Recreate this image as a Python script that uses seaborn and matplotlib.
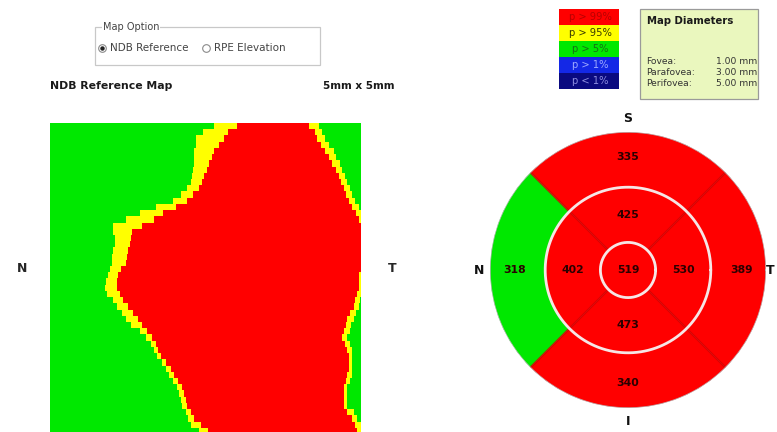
import numpy as np
import matplotlib
matplotlib.use("Agg")
import matplotlib.pyplot as plt
from matplotlib.colors import ListedColormap
from matplotlib.patches import Rectangle
from matplotlib.lines import Line2D
import seaborn as sns

sns.set_style("white")
plt.rcParams["font.family"] = ["DejaVu Sans"]

# ---------------------------------------------------------------
# Significance classes (legend)
classes = ["p > 99%", "p > 95%", "p > 5%", "p > 1%", "p < 1%"]
class_colors = ["#FF0000", "#FFFF00", "#00E800", "#1428E6", "#0A0A80"]
class_text = ["#B80000", "#3A3A00", "#157015", "#9CA8FF", "#8C8CE0"]

# Map diameters panel
diam_names = ["Fovea:", "Parafovea:", "Perifovea:"]
diam_values = ["1.00 mm", "3.00 mm", "5.00 mm"]

# ETDRS grid: thickness (um) and class per sector
center_value = 519
center_class = "p > 99%"
sector_names = ["S", "N", "T", "I"]
sector_angles_deg = [90, 180, 0, 270]
inner_values = [425, 402, 530, 473]
inner_classes = ["p > 99%", "p > 99%", "p > 99%", "p > 99%"]
outer_values = [335, 318, 389, 340]
outer_classes = ["p > 99%", "p > 5%", "p > 99%", "p > 99%"]
ring_radii_mm = [0.5, 1.5, 2.5]

# NDB reference map (5 mm x 5 mm): per 0.1 mm row, edges (mm) of the
# p > 95% region (yellow) and the p > 99% region (red)
row_y = np.round(np.arange(0.05, 5.0, 0.1), 2)
yellow_left = [2.65, 2.47, 2.35, 2.34, 2.33, 2.33, 2.33, 2.31, 2.29, 2.27,
               2.20, 2.10, 1.98, 1.70, 1.45, 1.22, 1.03, 1.03, 1.05, 1.04,
               1.03, 1.01, 1.00, 0.97, 0.94, 0.91, 0.88, 0.93, 1.02, 1.09,
               1.16, 1.23, 1.31, 1.44, 1.55, 1.62, 1.68, 1.73, 1.80, 1.87,
               1.93, 1.99, 2.05, 2.08, 2.11, 2.13, 2.18, 2.22, 2.27, 2.40]
yellow_right = [4.32, 4.38, 4.42, 4.48, 4.55, 4.60, 4.65, 4.70, 4.74, 4.78,
                4.81, 4.85, 4.90, 4.95, 5.00, 5.00, 5.00, 5.00, 5.00, 5.00,
                5.00, 5.00, 5.00, 5.00, 5.00, 5.00, 5.00, 5.00, 4.97, 4.95,
                4.91, 4.87, 4.84, 4.81, 4.77, 4.81, 4.85, 4.86, 4.86, 4.86,
                4.85, 4.82, 4.78, 4.77, 4.77, 4.78, 4.87, 4.93, 5.00, 5.00]
red_left = [3.00, 2.87, 2.80, 2.72, 2.65, 2.61, 2.57, 2.53, 2.49, 2.45,
            2.40, 2.30, 2.20, 2.03, 1.82, 1.68, 1.49, 1.33, 1.30, 1.29,
            1.27, 1.25, 1.22, 1.15, 1.10, 1.08, 1.08, 1.12, 1.19, 1.26,
            1.35, 1.42, 1.49, 1.57, 1.65, 1.70, 1.75, 1.78, 1.86, 1.95,
            2.01, 2.07, 2.13, 2.16, 2.19, 2.21, 2.26, 2.32, 2.42, 2.55]
red_right = [4.15, 4.25, 4.30, 4.36, 4.42, 4.48, 4.54, 4.59, 4.64, 4.68,
             4.71, 4.75, 4.79, 4.85, 4.92, 4.96, 5.00, 5.00, 5.00, 5.00,
             5.00, 5.00, 5.00, 5.00, 4.96, 4.95, 4.95, 4.93, 4.90, 4.87,
             4.82, 4.78, 4.75, 4.72, 4.69, 4.73, 4.77, 4.79, 4.79, 4.79,
             4.78, 4.75, 4.72, 4.71, 4.71, 4.72, 4.78, 4.85, 4.90, 4.93]

# ---------------------------------------------------------------
W, H = 777, 432
fig = plt.figure(figsize=(W / 100, H / 100), dpi=100)
fig.patch.set_facecolor("white")


def fx(px):
    return px / W


def fy(py):
    return 1 - py / H


# ---- NDB reference map as a categorical heatmap -----------------
n_cols = 250
xs = (np.arange(n_cols) + 0.5) * 5.0 / n_cols
grid = np.zeros((len(row_y), n_cols), dtype=int)
for i in range(len(row_y)):
    grid[i, (xs >= yellow_left[i]) & (xs <= yellow_right[i])] = 1
    grid[i, (xs >= red_left[i]) & (xs <= red_right[i])] = 2

map_cmap = ListedColormap([class_colors[2], class_colors[1], class_colors[0]])
ax_map = fig.add_axes([fx(50), fy(434), fx(311), 311 / H])
sns.heatmap(grid, cmap=map_cmap, vmin=-0.5, vmax=2.5, cbar=False,
            xticklabels=False, yticklabels=False, ax=ax_map)
ax_map.set_xlabel("")
ax_map.set_ylabel("")

fig.text(fx(50), fy(86), "NDB Reference Map", fontsize=7.8,
         fontweight="bold", ha="left", va="center", color="#1a1a1a")
fig.text(fx(395), fy(86), "5mm x 5mm", fontsize=7.6,
         fontweight="bold", ha="right", va="center", color="#1a1a1a")
fig.text(fx(22), fy(268), "N", fontsize=9, fontweight="bold",
         ha="center", va="center")
fig.text(fx(392), fy(268), "T", fontsize=9, fontweight="bold",
         ha="center", va="center")

# ---- Map option group box ----------------------------------------
fig.add_artist(Rectangle((fx(95), fy(65)), fx(225), 38 / H,
                         transform=fig.transFigure, fill=False,
                         edgecolor="#C8C8C8", linewidth=0.9))
fig.text(fx(103), fy(27), "Map Option", fontsize=7, ha="left",
         va="center", color="#444444",
         bbox=dict(facecolor="white", edgecolor="none", pad=0.6))
for px, label, selected in [(102, "NDB Reference", True),
                            (206, "RPE Elevation", False)]:
    fig.add_artist(Line2D([fx(px)], [fy(48)], marker="o", markersize=5.5,
                          markerfacecolor="white", markeredgecolor="#8A8A8A",
                          markeredgewidth=0.8, transform=fig.transFigure))
    if selected:
        fig.add_artist(Line2D([fx(px)], [fy(48)], marker="o",
                              markersize=2.2, color="#222222",
                              transform=fig.transFigure))
    fig.text(fx(px + 8), fy(48), label, fontsize=7.5, ha="left",
             va="center", color="#444444")

# ---- Significance legend -----------------------------------------
row_h = 16
for k, (lab, col, tcol) in enumerate(zip(classes, class_colors, class_text)):
    top = 9 + k * row_h
    fig.add_artist(Rectangle((fx(559), fy(top + row_h)), fx(60), row_h / H,
                             transform=fig.transFigure, facecolor=col,
                             edgecolor="none"))
    fig.text(fx(590), fy(top + row_h / 2), lab, fontsize=7.2,
             ha="center", va="center", color=tcol)

# ---- Map diameters box ---------------------------------------------
fig.add_artist(Rectangle((fx(640), fy(99)), fx(118), 90 / H,
                         transform=fig.transFigure, facecolor="#EAF7BE",
                         edgecolor="#9A9A9A", linewidth=0.9))
fig.text(fx(647), fy(21), "Map Diameters", fontsize=7.3, fontweight="bold",
         ha="left", va="center", color="#1a1a1a")
for k, (nm, val) in enumerate(zip(diam_names, diam_values)):
    yy = fy(61 + k * 11.5)
    fig.text(fx(646), yy, nm, fontsize=6.6, ha="left", va="center",
             color="#333333")
    fig.text(fx(757), yy, val, fontsize=6.6, ha="right", va="center",
             color="#333333")

# ---- ETDRS sector chart (polar) -----------------------------------
color_of = dict(zip(classes, class_colors))
R = 138
ax_p = fig.add_axes([fx(628 - R), fy(270 + R), fx(2 * R), 2 * R / H],
                    projection="polar")
ax_p.set_ylim(0, ring_radii_mm[2])
ax_p.set_axis_off()

r0, r1, r2 = ring_radii_mm
theta_c = np.deg2rad(sector_angles_deg)
ax_p.bar(0, r0, width=2 * np.pi, bottom=0,
         color=color_of[center_class], edgecolor="none")
ax_p.bar(theta_c, r1 - r0, width=np.pi / 2, bottom=r0,
         color=[color_of[c] for c in inner_classes], edgecolor="none")
ax_p.bar(theta_c, r2 - r1, width=np.pi / 2, bottom=r1,
         color=[color_of[c] for c in outer_classes], edgecolor="none")

# sector dividers
for a in np.deg2rad([45, 135, 225, 315]):
    ax_p.plot([a, a], [r0, r2], color="#D40000", linewidth=1.6,
              alpha=0.8, solid_capstyle="butt")

tt = np.linspace(0, 2 * np.pi, 400)
for rr in (r0, r1):
    ax_p.plot(tt, np.full_like(tt, rr), color="#F6E6E6", linewidth=2.0)
ax_p.plot(tt, np.full_like(tt, r2), color="#B8B8B8", linewidth=1.0)

val_style = dict(fontsize=7.8, fontweight="bold", ha="center",
                 va="center", color="#2A0000")
ax_p.text(0, 0, str(center_value), **val_style)
for th, v in zip(theta_c, inner_values):
    ax_p.text(th, 1.0, str(v), **val_style)
for th, v in zip(theta_c, outer_values):
    ax_p.text(th, 2.05, str(v), **val_style)

label_r = {"S": 2.75, "N": 2.7, "T": 2.58, "I": 2.75}
for th, nm in zip(theta_c, sector_names):
    ax_p.text(th, label_r[nm], nm, fontsize=9, fontweight="bold",
              ha="center", va="center", color="#111111")

fig.savefig("out.png", dpi=100, facecolor="white")
